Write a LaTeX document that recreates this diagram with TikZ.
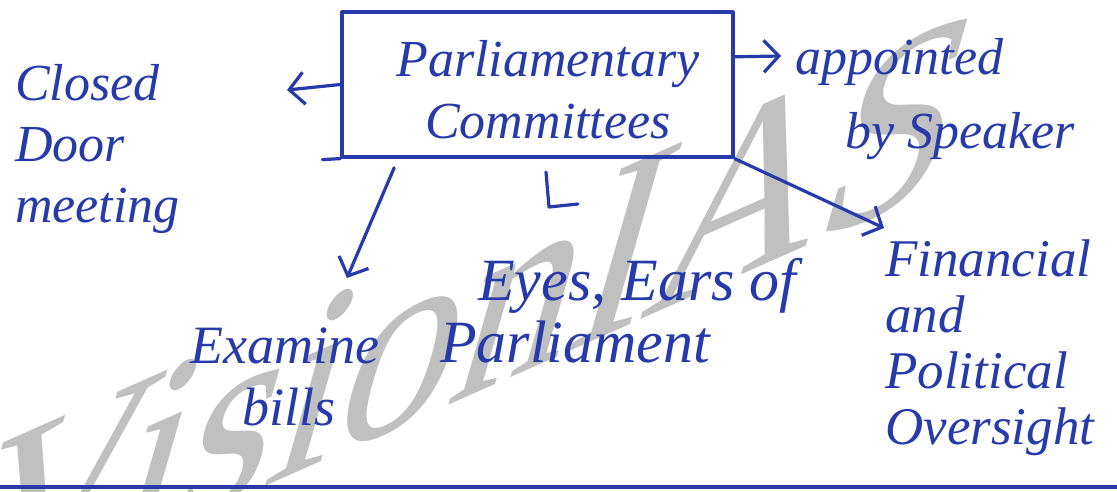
\documentclass[tikz,border=0pt]{standalone}
\usepackage{fontspec}
\setmainfont{Liberation Serif}
\usetikzlibrary{arrows.meta,calc}
\definecolor{ink}{RGB}{38,58,170}
\definecolor{wmgrey}{RGB}{192,192,192}

\begin{document}
\begin{tikzpicture}[x=1pt,y=-1pt,
  pen/.style={draw=ink, line width=3.2pt, line cap=round, line join=round},
  penarrow/.style={pen, -{Straight Barb[length=15pt,width=32pt]}},
  hand/.style={text=ink, inner sep=0pt, align=left, anchor=north west},
]
\useasboundingbox (0,0) rectangle (1117,492);
\fill[white] (0,0) rectangle (1117,492);

% slanted grey watermark lettering behind the notes
\begin{scope}[cm={0.81,0.359,0.276,0.961,(-52,627)}]
  \node[transform shape, anchor=base west, inner sep=0pt, text=wmgrey,
        font=\fontsize{290}{290}\selectfont] (wm) at (0,0) {VisionIAS};
\end{scope}

% central box
\node[pen, minimum width=391pt, minimum height=145pt, inner sep=0pt] (box) at (537.5,84.5) {};
\draw[pen] (box.south west) -- ++(-18,1);
\node[hand, anchor=center, align=center, font=\itshape\fontsize{52}{62}\selectfont] (title) at (548,90)
  {Parliamentary\\Committees};

% labels around the box
\node[hand, font=\itshape\fontsize{52}{61}\selectfont] (closed) at (15,64)
  {Closed\\Door\\meeting};
\node[hand, font=\itshape\fontsize{52}{74}\selectfont] (appt) at (795,38)
  {appointed\\\hspace*{50pt}by Speaker};
\node[hand, font=\itshape\fontsize{54}{62}\selectfont] (exam) at (190,328)
  {Examine\\\hspace*{52pt}bills};
\node[hand, font=\itshape\fontsize{60}{62}\selectfont] (eyes) at (440,258)
  {\hspace*{38pt}Eyes, Ears of\\Parliament};
\node[hand, font=\itshape\fontsize{53}{56}\selectfont] (fin) at (885,240)
  {Financial\\and\\Political\\Oversight};

% arrow ends
\coordinate (closedTip) at (287,90);
\coordinate (apptTip) at (781,56);
\coordinate (examTip) at (347,278);
\coordinate (finTip) at (884,228);
\coordinate (eyesTop) at (546,172);
\coordinate (eyesCorner) at (549,207);
\coordinate (eyesFoot) at (578,204);

% connectors
\draw[penarrow] (box.west) -- (closedTip);
\draw[penarrow] (box.8) -- (apptTip);
\draw[penarrow, shorten <=10pt] (box.208) -- (examTip);
\draw[penarrow] (box.south east) -- (finTip);
\draw[pen] (eyesTop) -- (eyesCorner) -- (eyesFoot);

% rule along the foot of the page
\coordinate (ruleL) at (0,487);
\coordinate (ruleR) at (1117,487);
\draw[pen, line width=3.5pt] (ruleL) -- (ruleR);
\end{tikzpicture}
\end{document}
